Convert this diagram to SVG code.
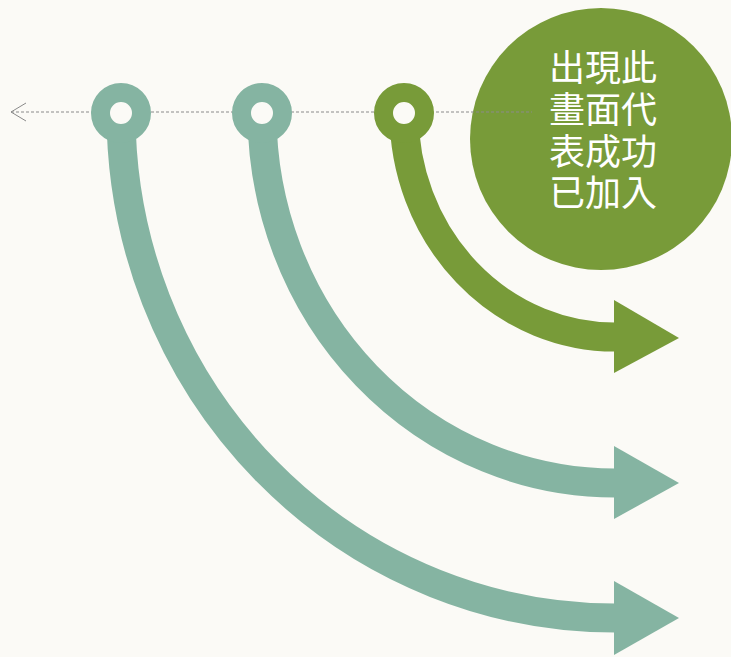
<svg xmlns="http://www.w3.org/2000/svg" width="731" height="657" viewBox="0 0 731 657">
<style>
.sage{stroke:#85B4A2;fill:none;stroke-width:29}
.olive{stroke:#789B39;fill:none;stroke-width:29}
.sagef{fill:#85B4A2}
.olivef{fill:#789B39}
.ring{stroke-width:19;fill:#FBFAF6}
.lbl{font-family:"Noto Sans CJK TC","Noto Sans CJK SC",sans-serif;font-size:36px;fill:#FFFFFF;text-anchor:middle}
</style>
<rect width="731" height="657" fill="#FBFAF6"/>
<g id="note">
<circle cx="601" cy="139" r="131" class="olivef"/>
<text class="lbl" x="603" y="81">出現此</text>
<text class="lbl" x="603" y="123">畫面代</text>
<text class="lbl" x="603" y="165">表成功</text>
<text class="lbl" x="603" y="206">已加入</text>
</g>
<g id="connectors">
<line x1="11" y1="112" x2="532" y2="112" stroke="#8a8a8a" stroke-width="1" stroke-dasharray="3,2"/>
<polyline points="26,103 11,112 26,121" fill="none" stroke="#8a8a8a" stroke-width="1"/>
</g>
<g id="path1">
<path class="sage" d="M121,113 A494,505 0 0 0 618,618"/>
<polygon class="sagef" points="614,581 679,618 614,655"/>
<circle cx="121" cy="113" r="20.5" class="ring" stroke="#85B4A2"/>
</g>
<g id="path2">
<path class="sage" d="M262,113 A353,370 0 0 0 618,483"/>
<polygon class="sagef" points="614,446 679,483 614,519"/>
<circle cx="262" cy="113" r="20.5" class="ring" stroke="#85B4A2"/>
</g>
<g id="path3">
<path class="olive" d="M404,113 A211,224 0 0 0 618,337"/>
<polygon class="olivef" points="614,300 679,338 614,373"/>
<circle cx="404" cy="113" r="20.5" class="ring" stroke="#789B39"/>
</g>
</svg>
